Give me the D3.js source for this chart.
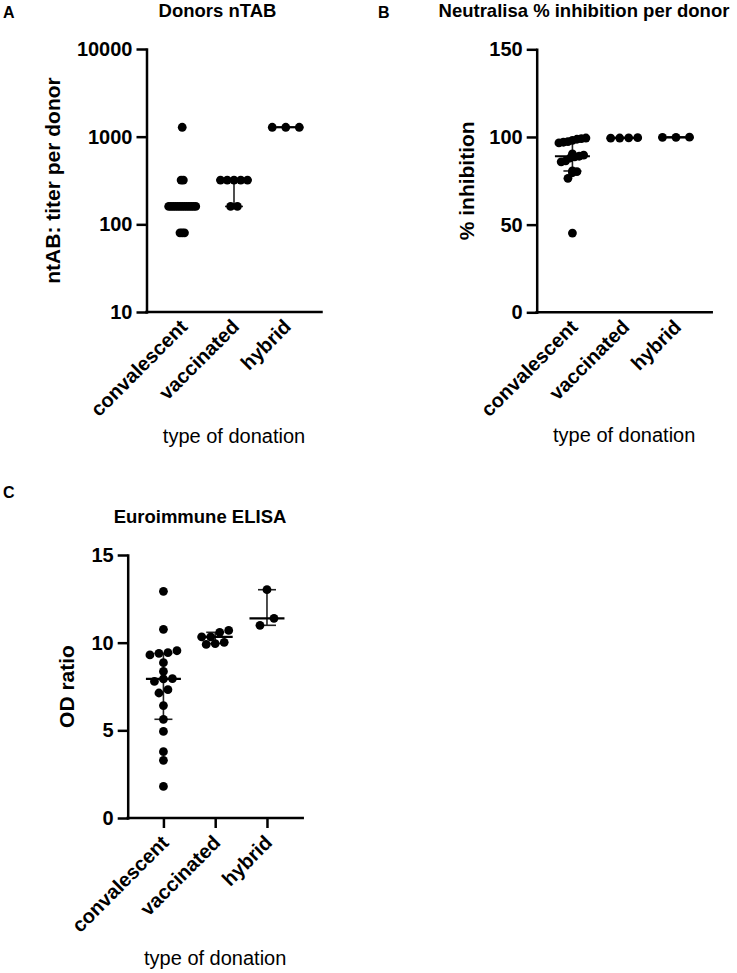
<!DOCTYPE html>
<html>
<head>
<meta charset="utf-8">
<script src="https://cdn.jsdelivr.net/npm/d3@7"></script>
<style>
  body { margin: 0; background: #fff; }
  svg text { font-family: "Liberation Sans", Arial, sans-serif; fill: #000; }
</style>
</head>
<body>
<svg id="chart" width="737" height="973"></svg>
<script>
const categories = ["convalescent", "vaccinated", "hybrid"];

// A - nTAB titer per donor
const ntabConvalescent = [80, 80, 80, 160, 160, 160, 160, 160, 160, 160, 160, 160, 160, 160, 160, 160, 320, 320, 1280];
const ntabVaccinated = [160, 160, 320, 320, 320, 320, 320];
const ntabHybrid = [1280, 1280, 1280];
const ntabTicks = [10, 100, 1000, 10000];

// B - Neutralisa % inhibition
const inhibConvalescent = [45.2, 76.4, 79.6, 80.2, 80.6, 85.8, 86.4, 88.0, 88.6, 89.0, 89.6, 90.4, 96.6, 97.0, 97.3, 98.0, 98.7, 99.1, 99.4];
const inhibVaccinated = [99.3, 99.5, 99.6, 99.4];
const inhibHybrid = [99.8, 99.9, 99.8];
const inhibTicks = [0, 50, 100, 150];

// C - Euroimmune ELISA OD ratio
const odConvalescent = [12.93, 10.76, 9.54, 9.43, 9.39, 9.30, 8.86, 8.36, 7.95, 7.93, 7.79, 7.32, 7.13, 6.41, 5.63, 4.94, 3.78, 3.29, 1.80];
const odVaccinated = [9.90, 9.95, 10.02, 10.33, 10.33, 10.59, 10.70];
const odHybrid = [13.02, 11.39, 10.99];
const odTicks = [0, 5, 10, 15];

const svg = d3.select("#chart");
const plotW = 175, plotH = 263;
const r = 4.4;
const binPx = 7.2, spread = 27, maxStep = 14;

// quantile the way Prism does it: position (n+1)p
function quantile(sorted, p) {
  const n = sorted.length;
  const pos = (n + 1) * p;
  if (pos <= 1) return sorted[0];
  if (pos >= n) return sorted[n - 1];
  const lo = Math.floor(pos);
  return sorted[lo - 1] + (pos - lo) * (sorted[lo] - sorted[lo - 1]);
}

// put close values on one row and spread each row evenly around the column center
function swarm(values, y) {
  const order = values.map((v, i) => i).sort((a, b) => values[a] - values[b]);
  const rows = [];
  let row = null;
  order.forEach(i => {
    const py = y(values[i]);
    if (row && Math.abs(py - row.start) < binPx) row.items.push(i);
    else { row = { start: py, items: [i] }; rows.push(row); }
  });
  const nMax = d3.max(rows, d => d.items.length);
  const step = nMax > 1 ? Math.min(maxStep, spread / (nMax - 1)) : 0;
  const dx = new Array(values.length);
  rows.forEach(d => d.items.forEach((i, k) => { dx[i] = (k - (d.items.length - 1) / 2) * step; }));
  return dx;
}

function drawPanel(p) {
  const g = svg.append("g").attr("transform", `translate(${p.left},${p.top})`);
  const x = d3.scalePoint().domain(categories).range([0, plotW]).padding(0.69);
  const y = p.y.range([plotH, 0]);

  // y axis
  const yAxis = g.append("g")
    .call(d3.axisLeft(y).tickValues(p.ticks).tickFormat(d3.format("d")).tickSize(10).tickSizeOuter(0).tickPadding(4));
  yAxis.selectAll("text").style("font-size", "20px").style("font-weight", "bold");

  // x axis
  const tickLen = p.xTicks ? 10 : 0;
  const xAxis = g.append("g")
    .attr("transform", `translate(0,${plotH})`)
    .call(d3.axisBottom(x).tickSize(tickLen).tickSizeOuter(0));
  xAxis.select(".domain").attr("d", `M0,0H${plotW}`);
  xAxis.selectAll("text")
    .attr("x", 0).attr("y", 0).attr("dy", "0.35em")
    .attr("text-anchor", "end")
    .attr("transform", `translate(1,${tickLen + 11}) rotate(-45)`)
    .style("font-size", "20px").style("font-weight", "bold");

  g.selectAll(".domain, .tick line")
    .attr("stroke", "#000").attr("stroke-width", 2.5).attr("stroke-linecap", "square");
  g.selectAll(".tick line").attr("stroke-linecap", "butt");

  // median with interquartile range
  p.data.forEach((vals, ci) => {
    const s = vals.slice().sort(d3.ascending);
    const cx = x(categories[ci]);
    const med = quantile(s, 0.5), q1 = quantile(s, 0.25), q3 = quantile(s, 0.75);
    const bars = g.append("g").attr("stroke", "#222").attr("stroke-width", 1.6);
    bars.append("line").attr("x1", cx).attr("x2", cx).attr("y1", y(q1)).attr("y2", y(q3));
    [q1, q3].forEach(q => bars.append("line")
      .attr("x1", cx - 9).attr("x2", cx + 9).attr("y1", y(q)).attr("y2", y(q)));
    g.append("line")
      .attr("x1", cx - 17.5).attr("x2", cx + 17.5).attr("y1", y(med)).attr("y2", y(med))
      .attr("stroke", "#000").attr("stroke-width", 2.2);
  });

  // dots
  p.data.forEach((vals, ci) => {
    const dx = swarm(vals, y);
    g.append("g").selectAll("circle")
      .data(vals)
      .join("circle")
      .attr("cx", (d, i) => x(categories[ci]) + dx[i])
      .attr("cy", d => y(d))
      .attr("r", r)
      .attr("fill", "#000");
  });

  // labels
  svg.append("text").attr("x", p.letterX).attr("y", p.letterY)
    .style("font-size", "16px").style("font-weight", "bold").text(p.letter);
  svg.append("text").attr("x", p.titleX).attr("y", p.titleY).attr("text-anchor", "middle")
    .style("font-size", "18.5px").style("font-weight", "bold").text(p.title);
  svg.append("text")
    .attr("transform", `translate(${p.ylabelX},${p.top + plotH / 2}) rotate(-90)`)
    .attr("text-anchor", "middle").attr("dy", "0.35em")
    .style("font-size", "21px").style("font-weight", "bold").text(p.ylabel);
  svg.append("text").attr("x", p.left + plotW / 2).attr("y", p.xlabelY).attr("text-anchor", "middle")
    .style("font-size", "20px").text("type of donation");
}

drawPanel({
  left: 146.5, top: 49, y: d3.scaleLog().domain([10, 10000]), ticks: ntabTicks,
  data: [ntabConvalescent, ntabVaccinated, ntabHybrid], xTicks: false,
  letter: "A", letterX: 3, letterY: 18, title: "Donors nTAB", titleX: 217.5, titleY: 17,
  ylabel: "ntAB: titer per donor", ylabelX: 53, xlabelY: 443
});

drawPanel({
  left: 536.7, top: 49.3, y: d3.scaleLinear().domain([0, 150]), ticks: inhibTicks,
  data: [inhibConvalescent, inhibVaccinated, inhibHybrid], xTicks: false,
  letter: "B", letterX: 378, letterY: 18, title: "Neutralisa % inhibition per donor", titleX: 584, titleY: 17,
  ylabel: "% inhibition", ylabelX: 466.7, xlabelY: 442
});

drawPanel({
  left: 127.7, top: 555, y: d3.scaleLinear().domain([0, 15]), ticks: odTicks,
  data: [odConvalescent, odVaccinated, odHybrid], xTicks: true,
  letter: "C", letterX: 3, letterY: 498, title: "Euroimmune ELISA", titleX: 200, titleY: 523,
  ylabel: "OD ratio", ylabelX: 66.7, xlabelY: 965
});
</script>
</body>
</html>
